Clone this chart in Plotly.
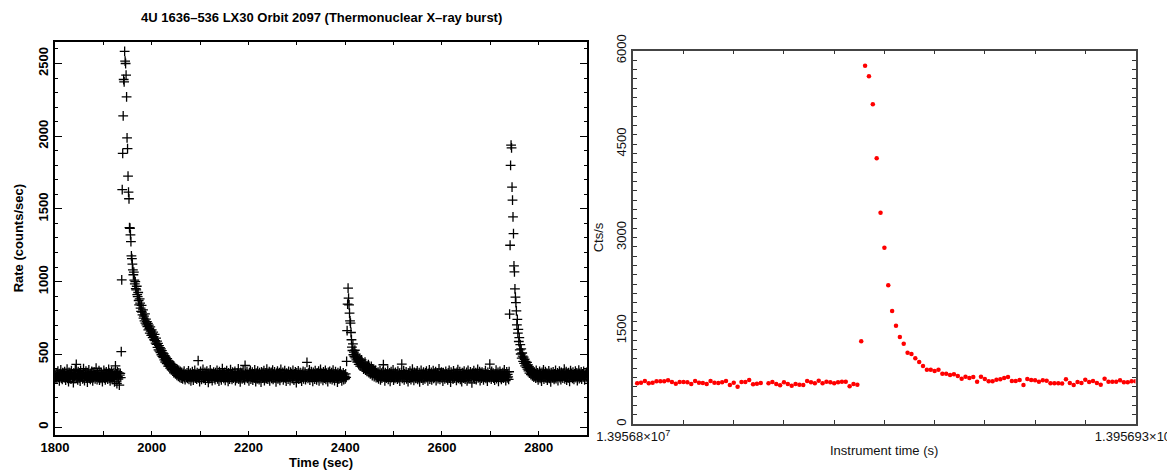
import numpy as np
import plotly.graph_objects as go

W, H = 1167, 474

# ---------------- Left panel data: LX30 light curve, 1 s bins ----------------
seg1_start = 1800
seg1_rate = [
    352, 338, 371, 345, 329, 360, 384, 341, 356, 318, 367, 349, 392, 336, 358, 327, 373, 344, 361, 339,
    381, 354, 322, 366, 347, 398, 335, 359, 312, 376, 343, 368, 351, 329, 387, 357, 340, 363, 305, 372,
    348, 334, 395, 356, 431, 342, 369, 324, 381, 350, 337, 364, 316, 389, 353, 346, 372, 331, 358, 401,
    343, 320, 367, 352, 385, 338, 361, 309, 374, 347, 393, 336, 355, 328, 369, 344, 382, 351, 317, 364,
    339, 378, 356, 332, 361, 404, 345, 326, 371, 353, 340, 388, 322, 366, 349, 335, 375, 358, 313, 362,
    347, 390, 337, 368, 324, 355, 379, 341, 363, 330, 352, 397, 336, 370, 318, 359, 345, 383, 328, 366,
    351, 342, 376, 311, 359, 420, 338, 365, 298, 380, 346, 330, 372, 288, 357, 369, 340]

burst1_start = 1937
burst1_rate = [
    519, 1012, 1632, 1882, 2140, 2390, 2374, 2584, 2516, 2500, 2420, 2271, 1989, 1914, 1726, 1616,
    1570, 1371, 1367, 1321, 1275, 1177, 1158, 1120, 1080, 1047, 1065, 1010, 985, 1000, 952, 943,
    968, 910, 897, 925, 870, 840, 881, 852, 818, 795, 836, 790, 771, 805, 749, 762, 730, 778,
    715, 742, 703, 725, 690, 712, 668, 701, 676, 645, 688, 659, 630, 668, 641, 615, 652, 622,
    600, 637, 594, 577, 611, 568, 590, 548, 575, 531, 560, 522, 546, 511, 538, 497, 525, 486,
    509, 478, 503, 462, 490, 447, 481, 458, 436, 470, 442, 419, 455, 428, 447, 405, 438, 416,
    394, 429, 401, 385, 418, 372, 409, 390, 366, 402, 378, 355, 396, 371, 348, 389, 362, 341,
    383, 357, 336, 375, 352, 331, 369, 347, 385, 339, 326, 364]

seg2_start = 2071
seg2_rate = [
    358, 341, 372, 335, 349, 386, 327, 362, 344, 370, 318, 356, 339, 381, 347, 323, 365, 352, 389, 336,
    361, 344, 330, 374, 351, 457, 338, 366, 312, 359, 382, 345, 328, 369, 353, 397, 334, 357, 341, 376,
    322, 363, 350, 385, 339, 358, 307, 371, 346, 333, 392, 355, 342, 368, 320, 361, 349, 378, 337, 354,
    326, 373, 345, 359, 390, 331, 364, 348, 316, 380, 352, 340, 369, 325, 357, 401, 343, 366, 334, 351,
    375, 321, 360, 347, 388, 338, 355, 314, 372, 349, 330, 364, 395, 341, 358, 327, 377, 352, 336, 368,
    345, 383, 319, 361, 350, 334, 371, 356, 399, 329, 362, 343, 310, 376, 348, 365, 332, 357, 386, 340,
    353, 324, 423, 367, 339, 358, 381, 335, 362, 346, 318, 373, 351, 389, 330, 360, 344, 377, 322, 355,
    366, 337, 392, 349, 313, 370, 354, 331, 384, 342, 359, 326, 374, 347, 362, 308, 379, 351, 336, 368,
    343, 387, 320, 357, 346, 372, 333, 398, 352, 329, 365, 341, 381, 317, 360, 348, 375, 334, 356, 391,
    328, 363, 345, 379, 338, 354, 311, 369, 350, 385, 332, 358, 344, 373, 321, 362, 396, 339, 355, 347,
    376, 325, 361, 343, 388, 336, 357, 315, 371, 349, 364, 330, 382, 346, 353, 319, 378, 340, 367, 352,
    334, 390, 348, 323, 366, 357, 379, 338, 305, 372, 355, 344, 386, 329, 361, 350, 374, 337, 358, 316,
    369, 345, 383, 331, 360, 352, 377, 326, 364, 341, 444, 356, 335, 371, 348, 393, 322, 362, 345, 380,
    339, 357, 314, 375, 351, 366, 330, 387, 343, 359, 324, 372, 353, 340, 384, 318, 363, 349, 396, 333,
    368, 344, 355, 321, 379, 352, 337, 362, 389, 328, 370, 346, 359, 313, 376, 350, 342, 382, 331, 364,
    347, 373, 326, 358, 391, 340, 365, 319, 352, 380, 336, 361, 345, 309, 374, 356, 329, 367, 350, 384,
    338, 362, 317, 355, 343, 372, 326, 359, 348, 332, 365, 341]

burst2_start = 2403
burst2_rate = [
    451, 663, 845, 955, 886, 840, 783, 730, 714, 650, 600, 549, 526, 572, 497, 515, 485, 528, 476, 501,
    462, 489, 447, 478, 455, 431, 468, 443, 419, 457, 435, 462, 412, 440, 425, 398, 433, 409, 446, 391,
    421, 403, 382, 416, 395, 428, 374, 407, 389, 366, 401, 416, 378, 354, 392, 370, 398, 347, 383, 361,
    390, 339, 372]

seg3_start = 2466
seg3_rate = [
    355, 342, 377, 331, 364, 348, 386, 325, 359, 370, 337, 352, 381, 428, 344, 361, 318, 374, 349, 336,
    366, 353, 389, 327, 358, 345, 372, 314, 360, 381, 339, 355, 347, 392, 322, 368, 350, 334, 376, 357,
    341, 363, 329, 384, 352, 338, 370, 316, 359, 346, 374, 433, 335, 362, 351, 388, 324, 365, 343, 357,
    379, 332, 356, 347, 312, 371, 360, 337, 385, 349, 326, 366, 353, 398, 340, 358, 321, 375, 345, 362,
    334, 369, 351, 386, 328, 357, 343, 373, 310, 361, 348, 390, 336, 367, 354, 323, 378, 342, 359, 331,
    372, 346, 384, 339, 355, 317, 368, 352, 393, 330, 363, 344, 376, 325, 358, 349, 387, 335, 366, 341,
    354, 380, 320, 362, 347, 371, 333, 356, 399, 343, 328, 369, 351, 377, 338, 360, 315, 374, 346, 363,
    332, 357, 383, 341, 365, 350, 324, 372, 345, 389, 336, 359, 308, 378, 352, 367, 343, 330, 386, 355,
    339, 370, 348, 361, 321, 375, 353, 394, 334, 358, 346, 381, 327, 364, 350, 312, 373, 342, 368, 337,
    384, 355, 329, 362, 345, 376, 318, 357, 390, 340, 366, 351, 333, 379, 347, 363, 304, 371, 356, 344,
    387, 331, 360, 349, 374, 326, 365, 352, 396, 338, 357, 343, 381, 319, 368, 354, 336, 377, 348, 362,
    325, 370, 357, 341, 388, 334, 363, 350, 316, 375, 346, 360, 339, 433, 353, 368, 329, 382, 344, 359,
    371, 337, 355, 322, 366, 348, 391, 333, 361, 345, 376, 314, 358, 352, 383, 340, 367, 328, 363, 349,
    374, 336, 357, 393, 342, 365, 320, 351, 379, 338, 362, 345, 327]

burst3_start = 2739
burst3_rate = [
    380, 776, 1250, 1800, 1939, 1920, 1650, 1560, 1445, 1330, 1108, 1067, 950, 893, 856, 799,
    703, 740, 646, 672, 588, 615, 531, 566, 502, 538, 474, 509, 488, 452, 481, 437, 466, 420,
    451, 432, 410, 445, 398, 427, 386, 414, 371, 403, 392, 360, 397, 375, 352, 388, 366, 343]

seg4_start = 2791
seg4_rate = [
    378, 351, 364, 337, 389, 356, 342, 372, 325, 360, 347, 383, 334, 368, 352, 316, 375, 358, 341, 393,
    330, 363, 349, 381, 338, 357, 370, 322, 361, 345, 386, 335, 367, 353, 311, 374, 348, 362, 339, 379,
    355, 328, 366, 344, 390, 333, 359, 347, 372, 319, 364, 351, 384, 340, 357, 326, 376, 346, 362, 336,
    369, 353, 398, 331, 358, 345, 380, 323, 366, 350, 337, 373, 356, 314, 361, 388, 342, 368, 349, 334,
    377, 359, 327, 365, 348, 385, 339, 356, 372, 320, 362, 346, 391, 333, 368, 354, 341, 379, 330, 358,
    366, 344, 383, 351, 325, 370, 357, 340, 375, 349]

bin_size_left = 1.0

# ---------------- Right panel data: 1 s bins, instrument time ----------------
t_ref_right = 13956800
first_bin_offset = 1
cts_right = [
    654, 665, 691, 654, 665, 686, 686, 686, 702, 675, 648, 675, 675, 670, 643, 691, 665, 659, 643, 691,
    665, 659, 670, 691, 627, 665, 600, 675, 675, 707, 638, 648, 659, None, 654, 675, 643, 622, 670, 643,
    616, 643, 632, 627, 691, 670, 654, 696, 654, 681, 670, 654, 670, 681, 681, 606, 643, 632,
    1330, 5760, 5590, 5140, 4272, 3397, 2834, 2230, 1817, 1581, 1399, 1291, 1146, 1125, 1056, 997,
    932, 873, 873, 852, 873, 809, 809, 788, 798, 772, 729, 761, 740, 756, 681, 761, 724, 686, 686,
    713, 718, 740, 756, 691, 691, 707, 627, 724, 707, 702, 681, 702, 697, 654, 654, 654, 649, 718,
    659, 627, 675, 659, 713, 675, 691, 659, 632, 729, 681, 681, 681, 702, 670, 670, 686, 686]

left_title = "4U 1636\u2013536 LX30 Orbit 2097 (Thermonuclear X\u2013ray burst)"
right_xticks = [13956800, 13956930]
right_xticktext = ["1.39568\u00d710<sup>7</sup>", "1.395693\u00d710<sup>7</sup>"]

# ---------------- build series ----------------
segments = [(seg1_start, seg1_rate), (burst1_start, burst1_rate), (seg2_start, seg2_rate),
            (burst2_start, burst2_rate), (seg3_start, seg3_rate), (burst3_start, burst3_rate),
            (seg4_start, seg4_rate)]
t_left, r_left = [], []
for start, rates in segments:
    t_left.extend(start + bin_size_left * np.arange(len(rates)))
    r_left.extend(rates)

t_right = [t_ref_right + first_bin_offset + i for i in range(len(cts_right))]

# ---------------- geometry (pixels) ----------------
L1, R1, T1, B1 = 55, 587, 41.7, 435
L2, R2, T2, B2 = 633.3, 1135.5, 50.7, 424

fx = lambda p: p / W
fy = lambda p: 1 - p / H

fig = go.Figure()
fig.add_trace(go.Scatter(
    x=t_left, y=r_left, mode="markers", xaxis="x", yaxis="y",
    marker=dict(symbol="cross-thin", size=7, color="black", line=dict(color="black", width=1.3)),
    showlegend=False, hoverinfo="skip"))
fig.add_trace(go.Scatter(
    x=t_right, y=cts_right, mode="markers", xaxis="x2", yaxis="y2",
    marker=dict(symbol="circle", size=4.5, color="#ff0000", line=dict(width=0)),
    showlegend=False, hoverinfo="skip"))

left_font = dict(family="Liberation Sans, Arial, sans-serif", size=13, color="black", weight="bold")
right_font = dict(family="Liberation Sans, Arial, sans-serif", size=13, color="#111111")

fig.update_layout(
    width=W, height=H, margin=dict(l=0, r=0, t=0, b=0),
    paper_bgcolor="white", plot_bgcolor="white", showlegend=False,
    xaxis=dict(domain=[fx(L1), fx(R1)], range=[1800, 2900], anchor="y",
               tickmode="linear", tick0=1800, dtick=200, ticks="inside", ticklen=4,
               tickwidth=1.2, tickcolor="black",
               minor=dict(tick0=1800, dtick=100, ticks="inside", ticklen=4, tickwidth=1.2, tickcolor="black"),
               showline=True, linecolor="black", linewidth=1.5, mirror="ticks",
               showgrid=False, zeroline=False, tickfont=left_font, automargin=False),
    yaxis=dict(domain=[fy(B1), fy(T1)], range=[-55, 2650], anchor="x",
               tickmode="linear", tick0=0, dtick=500, ticks="inside", ticklen=7,
               tickwidth=1.2, tickcolor="black", tickangle=-90,
               minor=dict(tick0=0, dtick=100, ticks="inside", ticklen=3.5, tickwidth=1.2, tickcolor="black"),
               showline=True, linecolor="black", linewidth=1.5, mirror="ticks",
               showgrid=False, zeroline=False, tickfont=left_font, automargin=False),
    xaxis2=dict(domain=[fx(L2), fx(R2)], range=[right_xticks[0], right_xticks[1]], anchor="y2",
                tickmode="array", tickvals=right_xticks, ticktext=right_xticktext,
                ticks="inside", ticklen=4, tickwidth=1, tickcolor="#333333",
                minor=dict(tickmode="array", tickvals=list(np.arange(13956813, 13956930, 13)),
                           ticks="inside", ticklen=4, tickwidth=1, tickcolor="#333333"),
                showline=True, linecolor="#444444", linewidth=1.5, mirror="ticks",
                showgrid=False, zeroline=False, tickfont=right_font,
                ticklabeloverflow="allow", automargin=False),
    yaxis2=dict(domain=[fy(B2), fy(T2)], range=[0, 6000], anchor="x2",
                tickmode="array", tickvals=[0, 1500, 3000, 4500, 6000],
                ticks="inside", ticklen=4, tickwidth=1, tickcolor="#333333", tickangle=-90,
                minor=dict(tick0=0, dtick=150, ticks="inside", ticklen=4, tickwidth=1, tickcolor="#333333"),
                showline=True, linecolor="#444444", linewidth=1.5, mirror="ticks",
                showgrid=False, zeroline=False, tickfont=right_font,
                ticklabeloverflow="allow", automargin=False),
    annotations=[
        dict(text=left_title, x=fx((L1 + R1) / 2), y=fy(17), xref="paper", yref="paper",
             showarrow=False, xanchor="center", yanchor="middle", font=left_font),
        dict(text="Rate (counts/sec)", x=fx(18), y=fy((T1 + B1) / 2), xref="paper", yref="paper",
             showarrow=False, textangle=-90, xanchor="center", yanchor="middle", font=left_font),
        dict(text="Time (sec)", x=fx((L1 + R1) / 2), y=fy(462), xref="paper", yref="paper",
             showarrow=False, xanchor="center", yanchor="middle", font=left_font),
        dict(text="Cts/s", x=fx(598), y=fy((T2 + B2) / 2), xref="paper", yref="paper",
             showarrow=False, textangle=-90, xanchor="center", yanchor="middle", font=right_font),
        dict(text="Instrument time (s)", x=fx((L2 + R2) / 2), y=fy(450), xref="paper", yref="paper",
             showarrow=False, xanchor="center", yanchor="middle", font=right_font),
    ],
)

fig.write_html("out.html")
